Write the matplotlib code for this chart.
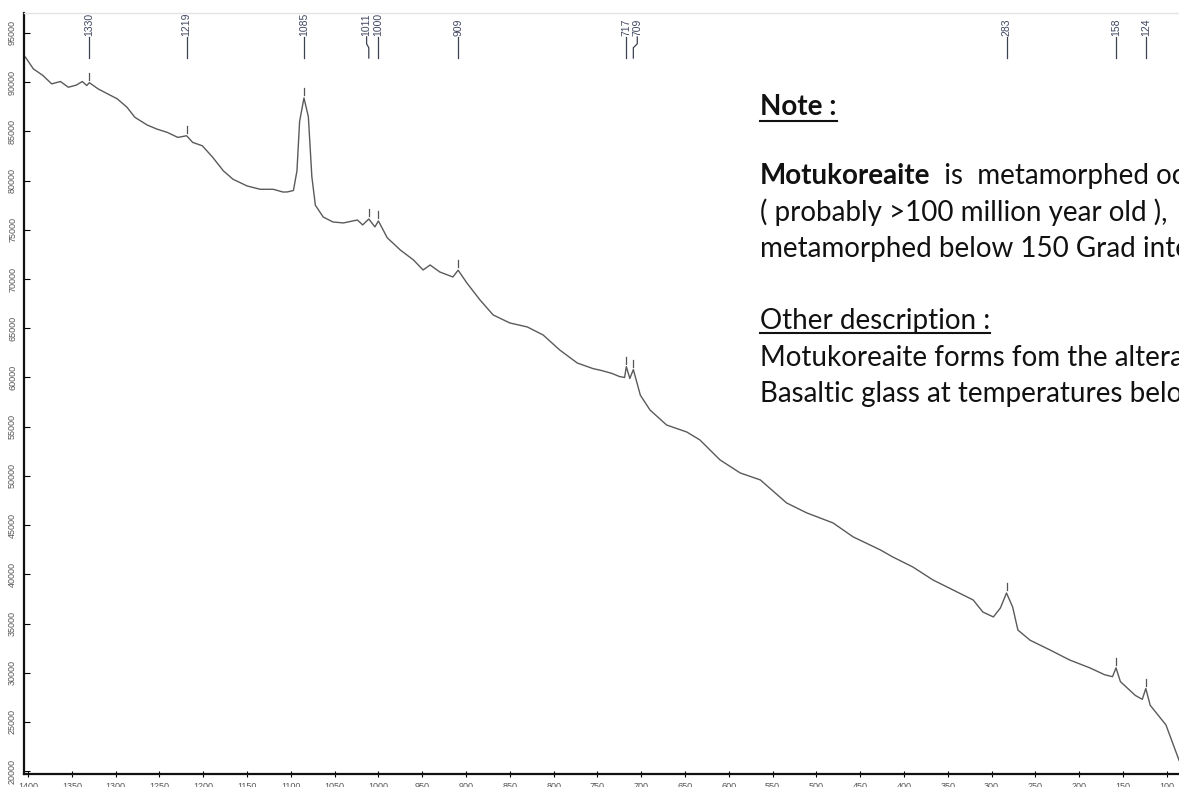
import numpy as np
import matplotlib
matplotlib.use("Agg")
import matplotlib.pyplot as plt
from matplotlib.lines import Line2D
from matplotlib.transforms import IdentityTransform

# Raman spectrum (wavenumber in cm-1, intensity in counts)
wavenumber = [1403, 1394, 1383, 1373, 1363, 1354, 1345, 1338, 1333, 1330, 1320,
              1309, 1298, 1287, 1278, 1264, 1253, 1241, 1229, 1219, 1212, 1201,
              1189, 1177, 1166, 1150, 1135, 1120, 1109, 1104, 1097, 1093, 1090,
              1085, 1080, 1076, 1072, 1063, 1052, 1040, 1024, 1018, 1011, 1004,
              1000, 990, 975, 960, 949, 941, 930, 915, 909, 899, 884, 869, 850,
              830, 812, 793, 773, 755, 745, 733, 725, 719, 717, 713, 709, 705,
              701, 690, 671, 648, 633, 610, 587, 564, 534, 511, 481, 458, 427,
              413, 390, 367, 344, 321, 310, 298, 290, 283, 276, 270, 256, 233,
              211, 188, 171, 162, 158, 153, 136, 128, 124, 119, 101, 86]
counts = [92550, 91360, 90680, 89830, 90070, 89490, 89700, 90070, 89660, 89950, 89320,
          88810, 88300, 87450, 86430, 85650, 85240, 84900, 84390, 84560, 83880, 83540,
          82350, 80990, 80140, 79460, 79120, 79120, 78840, 78850, 79000, 81000, 86000,
          88400, 86500, 80400, 77500, 76300, 75800, 75700, 76000, 75500, 76100, 75300,
          75900, 74200, 72950, 71940, 70920, 71430, 70720, 70210, 70900, 69600, 67870,
          66350, 65540, 65130, 64320, 62790, 61470, 60900, 60700, 60400, 60100, 60000,
          61100, 59900, 60800, 59500, 58200, 56700, 55170, 54460, 53650, 51620, 50300,
          49590, 47250, 46240, 45220, 43800, 42480, 41770, 40750, 39430, 38410, 37390,
          36170, 35670, 36580, 38100, 36680, 34340, 33300, 32300, 31300, 30500, 29800,
          29600, 30500, 29100, 27700, 27300, 28400, 26700, 24700, 21100]

peak_labels = [1330, 1219, 1085, 1011, 1000, 909, 717, 709, 283, 158, 124]
label_nudge = {1011: 2.5, 709: -4.5}   # crowded labels are pushed apart

x_ticks = list(range(100, 1401, 50))
y_ticks = list(range(20000, 95001, 5000))

note_title = "Note :"
note_bold = "Motukoreaite"
note_rest = "  is  metamorphed ocean"
note_line2 = "( probably >100 million year old ),"
note_line3 = "metamorphed below 150 Grad into"
other_title = "Other description :"
other_line1 = "Motukoreaite forms fom the alteration of"
other_line2 = "Basaltic glass at temperatures below"

W, H = 1179, 787
fig = plt.figure(figsize=(W / 100, H / 100), dpi=100)
ax = fig.add_axes([24 / W, 1 - 774 / H, 1 - 24 / W, (774 - 13) / H])

ax.plot(wavenumber, counts, color="#5a5a5a", lw=1.0)
ax.set_xlim(1404.6, 86.1)
ax.set_ylim(19714, 97030)

for side in ["left", "bottom"]:
    ax.spines[side].set_linewidth(1.6)
    ax.spines[side].set_color("#111111")
ax.spines["top"].set_color("#e4e4e4")
ax.spines["top"].set_linewidth(1.0)
ax.spines["right"].set_visible(False)

ax.set_xticks(x_ticks)
ax.set_xticklabels([str(v) for v in x_ticks])
ax.set_yticks(y_ticks)
ax.set_yticklabels([str(v) for v in y_ticks], rotation=90, va="center")
ax.tick_params(axis="x", direction="inout", length=5, width=0.8,
               labelsize=6.5, labelcolor="#555555", pad=3)
ax.tick_params(axis="y", direction="in", length=4, width=0.8,
               labelsize=6.5, labelcolor="#555555", pad=5)
for lbl in ax.get_xticklabels() + ax.get_yticklabels():
    lbl.set_family(["Liberation Sans", "DejaVu Sans"])

# peak markers on the curve and peak labels along the top
wn_asc = np.array(wavenumber[::-1])
ct_asc = np.array(counts[::-1])
for p in peak_labels:
    yc = np.interp(p, wn_asc, ct_asc)
    ax.plot([p, p], [yc + 300, yc + 1000], color="#555555", lw=0.9)
    tx = p + label_nudge.get(p, 0)
    if tx != p:
        ax.plot([tx, tx, p, p], [94600, 93900, 93500, 92450], color="#3c4150", lw=0.9)
    else:
        ax.plot([p, p], [94600, 92450], color="#3c4150", lw=0.9)
    ax.text(tx, 94650, str(p), rotation=90, ha="center", va="bottom",
            fontsize=7.5, color="#3f4660", family=["Liberation Sans", "DejaVu Sans"])

# note block on the right, sized so the text widths match
fam = ["Lato", "DejaVu Sans"]
renderer = fig.canvas.get_renderer()
probe = fig.text(0, 0, note_line2, fontsize=20, family=fam)
fs = 20 * 407 / probe.get_window_extent(renderer).width
probe.remove()


def put(y_top, s, weight="normal"):
    return fig.text(760 / W, 1 - y_top / H, s, fontsize=fs, fontweight=weight,
                    family=fam, ha="left", va="baseline", color="#111111")


def underline(t, y_top, off):
    bb = t.get_window_extent(renderer)
    yb = H - y_top - off
    fig.add_artist(Line2D([bb.x0, bb.x1], [yb, yb], transform=IdentityTransform(),
                          color="#111111", lw=1.5))


t_note = put(115, note_title, "bold")
t_bold = put(184, note_bold, "bold")
ax.annotate(note_rest, xy=(1, 0), xycoords=t_bold, ha="left", va="bottom",
            fontsize=fs, family=fam, color="#111111", annotation_clip=False)
put(220.5, note_line2)
put(257, note_line3)
t_other = put(329, other_title)
put(366, other_line1)
put(402, other_line2)
underline(t_note, 115, 6)
underline(t_other, 329, 4)

fig.savefig("out.png", dpi=100)
